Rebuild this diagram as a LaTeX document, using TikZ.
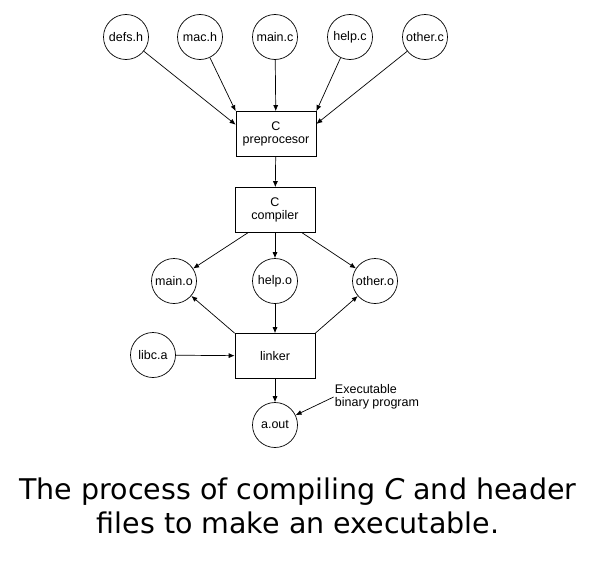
\documentclass[tikz,border=0pt]{standalone}
\usepackage{fontspec}
\setmainfont{Liberation Sans}
\newfontfamily\capfont{DejaVu Sans}
\usetikzlibrary{arrows.meta}

\begin{document}
\begin{tikzpicture}[x=1pt, y=-1pt, line width=0.7pt,
    file/.style={draw, circle, minimum size=45pt, inner sep=0pt, font=\fontsize{12.5}{13.5}\selectfont},
    tool/.style={draw, rectangle, minimum width=80pt, minimum height=45pt, align=center, font=\fontsize{12.5}{13.5}\selectfont},
    flow/.style={-{Latex[length=6pt,width=5pt]}}]

        \useasboundingbox (0, 0) rectangle (596, 562);

        % Declare the source files
        \node[file] at (126, 37) (defs) {defs.h};
        \node[file] at (200, 37) (mac) {mac.h};
        \node[file] at (275, 37) (mainc) {main.c};
        \node[file] at (350, 37) (helpc) {help.c};
        \node[file] at (425, 37) (otherc) {other.c};

        % Declare the tools
        \node[tool] at (276, 134) (pre) {C\\preprocesor};
        \node[tool] at (275, 210) (comp) {C\\compiler};
        \node[tool] at (275, 356) (link) {linker};

        % Declare the object files
        \node[file] at (174, 281) (maino) {main.o};
        \node[file] at (275, 281) (helpo) {help.o};
        \node[file] at (375, 281) (othero) {other.o};
        \node[file] at (153, 355) (libc) {libc.a};
        \node[file] at (275, 425) (aout) {a.out};

        % Declare edges
        \draw[flow] (defs) -- (pre.167);
        \draw[flow] (mac) -- (pre.north west);
        \draw[flow] (mainc) -- (pre);
        \draw[flow] (helpc) -- (pre.north east);
        \draw[flow] (otherc) -- (pre.14);
        \draw[flow] (pre) -- (comp);
        \draw[flow] (comp.220) -- (maino);
        \draw[flow] (comp) -- (helpo);
        \draw[flow] (comp.320) -- (othero);
        \draw[flow] (link.north west) -- (maino);
        \draw[flow] (helpo) -- (link);
        \draw[flow] (link.north east) -- (othero);
        \draw[flow] (libc) -- (link);
        \draw[flow] (link) -- (aout);

        % Declare the note
        \node[align=left, inner sep=1pt, font=\fontsize{12.5}{12.5}\selectfont] at (377, 397) (exe) {Executable\\binary program};
        \draw[flow] (exe.west) -- (aout);

        % Declare the caption
        \node[align=center, font=\capfont\fontsize{28.5}{34}\selectfont] at (298, 506) (cap)
            {The process of compiling \textit{C} and header\\files to make an executable.};

    \end{tikzpicture}
\end{document}
